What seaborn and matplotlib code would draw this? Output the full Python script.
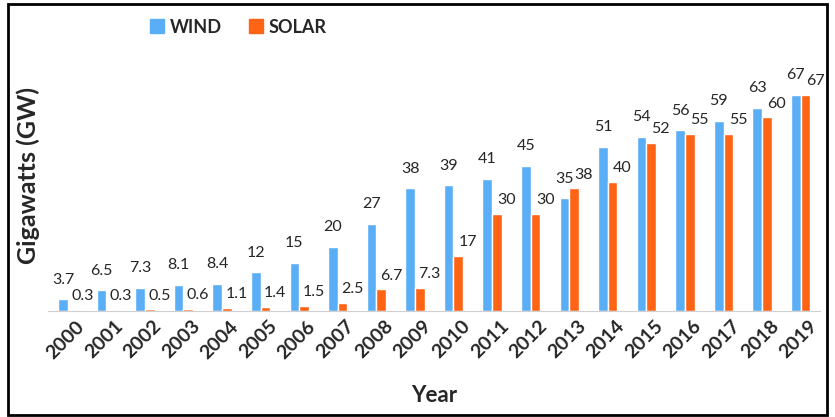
import pandas
import seaborn
from matplotlib import pyplot as plt
from matplotlib.patches import Rectangle

# data
years = [str(y) for y in range(2000, 2020)]
wind = [3.7, 6.5, 7.3, 8.1, 8.4, 12, 15, 20, 27, 38, 39, 41, 45, 35, 51, 54, 56, 59, 63, 67]
solar = [0.3, 0.3, 0.5, 0.6, 1.1, 1.4, 1.5, 2.5, 6.7, 7.3, 17, 30, 30, 38, 40, 52, 55, 55, 60, 67]
sources = ["WIND", "SOLAR"]
colors = ["#5AAEF6", "#FF6414"]

df = pandas.DataFrame({
    "Year": years * 2,
    "GW": wind + solar,
    "Source": [sources[0]] * len(years) + [sources[1]] * len(years),
})

seaborn.set_style("white")
plt.rcParams["font.family"] = ["Lato", "DejaVu Sans"]

fig = plt.figure(figsize=(8.35, 4.17), dpi=100)
ax = fig.add_axes([0.058, 0.254, 0.924, 0.65])

seaborn.barplot(data=df, x="Year", y="GW", hue="Source", palette=colors,
                width=0.5, gap=0, saturation=1, ax=ax, legend=False)

# value labels: wind centred above, solar nudged to the right
offsets = [(0, 9), (7, 5)]
for cont, vals, off in zip(ax.containers, [wind, solar], offsets):
    for bar, v in zip(cont, vals):
        ax.annotate("%g" % v, (bar.get_x() + bar.get_width() / 2, bar.get_height()),
                    xytext=off, textcoords="offset points", ha="center", va="bottom",
                    fontsize=11.5)

ax.set_ylim(0, 84)
ax.set_xlim(-0.5, len(years) - 0.5)
ax.set_yticks([])
for s in ["top", "right", "left"]:
    ax.spines[s].set_visible(False)
ax.spines["bottom"].set_color("#d0d0d0")
ax.set_xticks(range(len(years)))
ax.set_xticklabels([])
ax.tick_params(axis="x", length=0)

# year labels as slanted texts under each group
for i, y in enumerate(years):
    ax.text(i + 0.2, -2, y, rotation=45, ha="right", va="top",
            rotation_mode="anchor", fontsize=14, fontweight="bold", clip_on=False)

ax.set_xlabel("Year", fontsize=16, fontweight="bold", labelpad=50)
ax.set_ylabel("Gigawatts (GW)", fontsize=18, fontweight="bold", labelpad=6)

handles = [Rectangle((0, 0), 1, 1, color=c) for c in colors]
fig.legend(handles, sources, loc="center", bbox_to_anchor=(0.285, 0.935), ncol=2,
           frameon=False, handlelength=0.8, handleheight=0.8, handletextpad=0.3,
           columnspacing=1.5, prop={"weight": "bold", "size": 13})

fig.patches.append(Rectangle((0.01, 0.005), 0.98, 0.985, transform=fig.transFigure,
                             fill=False, edgecolor="black", linewidth=2))

fig.savefig("out.png", dpi=100)
